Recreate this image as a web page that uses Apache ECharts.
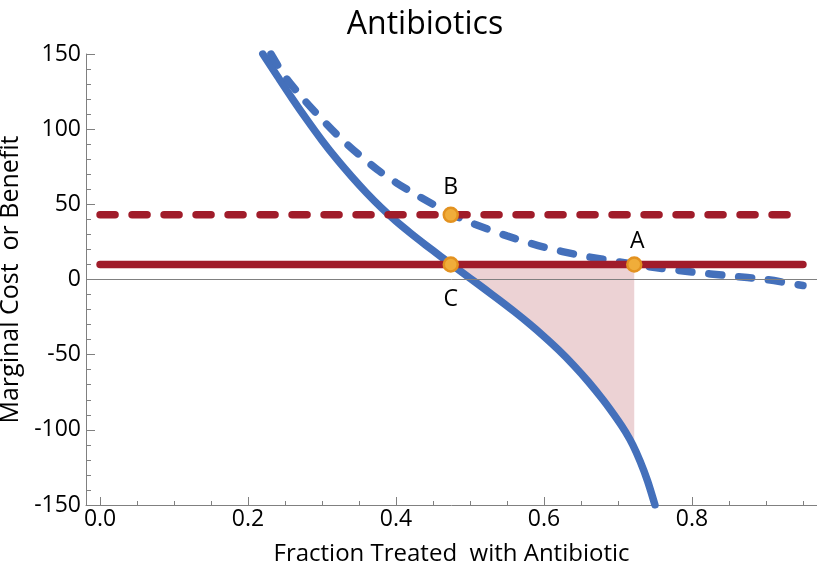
<!DOCTYPE html>
<html><head><meta charset="utf-8">
<script src="https://cdn.jsdelivr.net/npm/echarts@6/dist/echarts.min.js"></script>
<style>html,body{margin:0;padding:0;background:#fff}#c{width:817px;height:575px}</style>
</head><body><div id="c"></div>
<script>
const titleText = 'Antibiotics';
const xAxisName = 'Fraction Treated  with Antibiotic';
const yAxisName = 'Marginal Cost  or Benefit';
const xTickValues = [0, 0.2, 0.4, 0.6, 0.8];
const xMinorTickValues = [0.05,0.1,0.15,0.25,0.3,0.35,0.45,0.5,0.55,0.65,0.7,0.75,0.85,0.9,0.95];
const benefitX = [0.22,0.24,0.26,0.28,0.30,0.32,0.34,0.36,0.38,0.40,0.42,0.44,0.46,0.48,0.50,0.52,0.54,0.56,0.58,0.60,0.62,0.64,0.66,0.68,0.70,0.71,0.72,0.73,0.74,0.75];
const benefitY = [150,135,120.2,106,92.5,80,68.5,57.7,47.8,38.8,30.7,23,15.5,8.2,0.9,-6.4,-13.8,-21.4,-29.4,-37.9,-47,-57,-68,-80.2,-93.7,-101.2,-110,-121,-134,-150];
const benefitDashedX = [0.231,0.25,0.275,0.30,0.325,0.35,0.375,0.40,0.425,0.45,0.475,0.50,0.55,0.60,0.65,0.70,0.75,0.80,0.85,0.90,0.95];
const benefitDashedY = [150,135,120,106.5,94,83,73,64.5,57,50,43.5,38,29,21.5,16,11.8,8,5,2.5,0,-4];
const costX = [0, 0.95];
const costSolidY = [10, 10];
const costDashedY = [43, 43];
const pointNames = ['A','B','C'];
const pointX = [0.722, 0.474, 0.474];
const pointY = [10, 43, 10];
const shadeFromX = 0.474, shadeToX = 0.722, shadeTopY = 10, shadeBottomY = -112;

const BLUE = '#4470bb', RED = '#a01c2a', AXIS = '#808080';
const FONT = 'Open Sans';
const LW = 7.5;
const zip = (xs, ys) => xs.map((x, i) => [x, ys[i]]);

const labelCfg = [
  {position: 'top', distance: 3, offset: [3, 0]},
  {position: 'top', distance: 8, offset: [0, 0]},
  {position: 'bottom', distance: 15, offset: [0, 0]}
];

const chart = echarts.init(document.getElementById('c'), null, {renderer: 'canvas'});
chart.setOption({
  animation: false,
  backgroundColor: '#fff',
  title: {text: titleText, left: 420, top: 4, textAlign: 'center',
    textStyle: {fontFamily: FONT, fontSize: 32, fontWeight: 'normal', color: '#000'}},
  grid: {left: 86, right: 0, top: 54, bottom: 70, containLabel: false, outerBoundsMode: 'none'},
  xAxis: [{
    type: 'value', min: -0.019, max: 0.969, position: 'bottom',
    name: xAxisName, nameLocation: 'middle', nameGap: 37,
    nameTextStyle: {fontFamily: FONT, fontSize: 24, color: '#000'},
    axisLine: {show: true, onZero: false, lineStyle: {color: AXIS, width: 1}},
    axisTick: {show: true, inside: true, length: 8, customValues: xTickValues, lineStyle: {color: AXIS}},
    axisLabel: {customValues: xTickValues, fontFamily: FONT, fontSize: 23, color: '#000', margin: 3,
      formatter: v => v.toFixed(1)},
    splitLine: {show: false}
  }, {
    type: 'value', min: -0.019, max: 0.969, position: 'bottom',
    axisLine: {show: false, onZero: false},
    axisTick: {show: true, inside: true, length: 4, customValues: xMinorTickValues, lineStyle: {color: AXIS}},
    axisLabel: {show: false},
    splitLine: {show: false}
  }],
  yAxis: {
    type: 'value', min: -150, max: 150, interval: 50,
    name: yAxisName, nameLocation: 'middle', nameGap: 53, nameRotate: 90,
    nameTextStyle: {fontFamily: FONT, fontSize: 25, color: '#000'},
    axisLine: {show: true, onZero: false, lineStyle: {color: AXIS, width: 1}},
    axisTick: {show: true, inside: true, length: 9, lineStyle: {color: AXIS}},
    minorTick: {show: true, splitNumber: 5, length: 5, lineStyle: {color: AXIS}},
    axisLabel: {fontFamily: FONT, fontSize: 23, color: '#000', margin: 5},
    splitLine: {show: false}
  },
  series: [
    {
      type: 'custom', xAxisIndex: 0, silent: true, z: 1,
      data: [[shadeFromX, shadeTopY]],
      encode: {x: 0, y: 1},
      renderItem: (params, api) => {
        const pts = [api.coord([shadeFromX, shadeTopY])];
        benefitX.forEach((x, i) => { if (x >= shadeFromX && x < shadeToX) pts.push(api.coord([x, benefitY[i]])); });
        pts.push(api.coord([shadeToX, shadeBottomY]));
        pts.push(api.coord([shadeToX, shadeTopY]));
        return {type: 'polygon', shape: {points: pts}, style: {fill: 'rgba(160,28,42,0.2)'}};
      }
    },
    {
      type: 'line', xAxisIndex: 0, silent: true, z: 2, symbol: 'none', data: [],
      markLine: {silent: true, symbol: 'none', label: {show: false},
        lineStyle: {color: AXIS, width: 1, type: 'solid'}, data: [{yAxis: 0}]}
    },
    {
      type: 'line', xAxisIndex: 0, z: 3, symbol: 'none', smooth: 0.3,
      data: zip(benefitX, benefitY),
      lineStyle: {color: BLUE, width: LW, cap: 'round', join: 'round'}
    },
    {
      type: 'line', xAxisIndex: 0, z: 3, symbol: 'none', smooth: 0.3,
      data: zip(benefitDashedX, benefitDashedY),
      lineStyle: {color: BLUE, width: LW, cap: 'round', type: [13, 17]}
    },
    {
      type: 'line', xAxisIndex: 0, z: 4, symbol: 'none',
      data: zip(costX, costSolidY),
      lineStyle: {color: RED, width: LW, cap: 'round'}
    },
    {
      type: 'line', xAxisIndex: 0, z: 4, symbol: 'none',
      data: zip(costX, costDashedY),
      lineStyle: {color: RED, width: LW, cap: 'round', type: [15, 17]}
    },
    {
      type: 'scatter', xAxisIndex: 0, z: 5, symbolSize: 14,
      itemStyle: {color: '#f0ad3a', borderColor: '#e39220', borderWidth: 2.5, opacity: 1},
      data: pointX.map((x, i) => ({
        value: [x, pointY[i]], name: pointNames[i],
        label: Object.assign({show: true, formatter: pointNames[i], fontFamily: FONT, fontSize: 23, color: '#000'}, labelCfg[i])
      }))
    }
  ]
});
</script></body></html>
